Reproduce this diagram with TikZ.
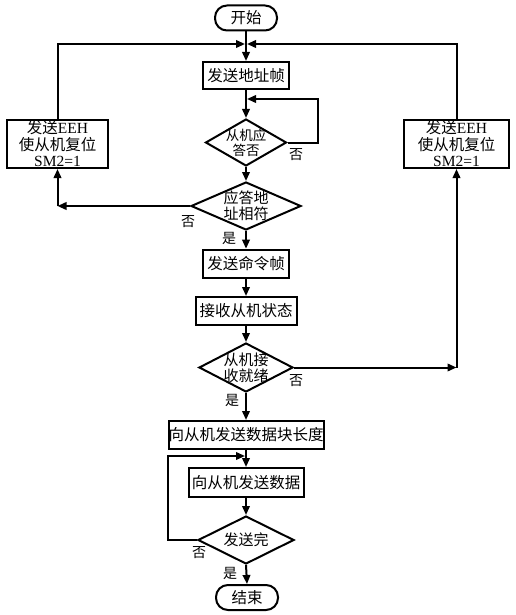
\documentclass[tikz,border=0pt]{standalone}
\usepackage{fontspec}
\setmainfont{Liberation Serif}
\newfontfamily\cjk{Noto Sans CJK SC}
\usetikzlibrary{shapes.geometric, arrows.meta}

\tikzset{
  flow/.style={line width=2pt, -{Triangle[length=9pt,width=7.5pt]}},
  procbox/.style={draw, line width=2pt, inner sep=0pt, align=center,
    font=\fontsize{15.5}{16.5}\selectfont\cjk},
  termbox/.style={procbox, rounded corners=12pt, minimum width=62pt, minimum height=25pt},
  decide/.style={draw, diamond, line width=2pt, inner sep=0pt},
  dtext/.style={align=center, inner sep=0pt, font=\fontsize{15}{16}\selectfont\cjk},
  tag/.style={inner sep=0pt, font=\fontsize{14}{14}\selectfont\cjk},
}

\begin{document}
\begin{tikzpicture}[x=1pt, y=-1pt]
  \useasboundingbox (0,0) rectangle (515,615);
  % main column
  \node[termbox] (start) at (246,18) {开始};
  \node[procbox, minimum width=86pt, minimum height=27pt] (addr) at (246,75.5) {发送地址帧};
  \node[decide, minimum width=81pt, minimum height=47pt,
    label={[dtext, font=\fontsize{13.5}{15}\selectfont\cjk]center:从机应\\答否}] (ack) at (246,142.5) {};
  \node[decide, minimum width=110pt, minimum height=48pt,
    label={[dtext]center:应答地\\址相符}] (match) at (246,206) {};
  \node[procbox, minimum width=86pt, minimum height=28pt, line width=2.6pt] (cmd) at (246,264) {发送命令帧};
  \node[procbox, minimum width=101pt, minimum height=28pt] (recv) at (246,311) {接收从机状态};
  \node[decide, minimum width=94pt, minimum height=49pt,
    label={[dtext]center:从机接\\收就绪}] (ready) at (246,367.5) {};
  \node[procbox, minimum width=155pt, minimum height=28pt] (len) at (246,435) {向从机发送数据块长度};
  \node[procbox, minimum width=115pt, minimum height=29pt] (data) at (246,482.5) {向从机发送数据};
  \node[decide, minimum width=96pt, minimum height=48pt,
    label={[dtext]center:发送完}] (done) at (246,540) {};
  \node[termbox] (stop) at (247,597.5) {结束};
  % reset boxes
  \node[procbox, minimum width=101pt, minimum height=48pt] (rstL) at (57.5,144)
    {发送{\rmfamily EEH}\\使从机复位\\{\rmfamily SM2=1}};
  \node[procbox, minimum width=105pt, minimum height=48pt] (rstR) at (456.5,144)
    {发送{\rmfamily EEH}\\使从机复位\\{\rmfamily SM2=1}};
  % junctions
  \coordinate (top) at (246,44);
  \coordinate (loopA) at (246,99);
  \coordinate (loopAR) at (318,99);
  \coordinate (cornL) at (57.5,206);
  \coordinate (cornR) at (456.5,367.5);
  \coordinate (loopB) at (246,456);
  \coordinate (loopBL) at (168,456);
  % connectors
  \draw[flow] (start.south) -- (addr.north);
  \draw[flow] (rstL.north) |- ([xshift=-1pt]top);
  \draw[flow] (rstR.north) |- ([xshift=1pt]top);
  \draw[flow] (addr.south) -- (ack.north);
  \draw[flow] (ack.east) -| (loopAR) -- ([xshift=1pt]loopA);
  \draw[flow] (ack.south) -- (match.north);
  \draw[flow] (match.west) -- (cornL);
  \draw[flow] (cornL) -- (rstL.south);
  \draw[flow] (match.south) -- (cmd.north);
  \draw[flow] (cmd.south) -- (recv.north);
  \draw[flow] (recv.south) -- (ready.north);
  \draw[flow] (ready.east) -- (cornR);
  \draw[flow] (cornR) -- (rstR.south);
  \draw[flow] (ready.south) -- (len.north);
  \draw[flow] (len.south) -- (data.north);
  \draw[flow] (data.south) -- (done.north);
  \draw[flow] (done.west) -| (loopBL) -- ([xshift=-1pt]loopB);
  \draw[flow] (done.south) -- (stop.north);
  % branch tags
  \node[tag] (noA) at (296,155) {否};
  \node[tag] (noB) at (188,222) {否};
  \node[tag] (yesB) at (229,238) {是};
  \node[tag] (noC) at (296,381) {否};
  \node[tag] (yesC) at (232,400) {是};
  \node[tag] (noD) at (199,553) {否};
  \node[tag] (yesD) at (230,573) {是};
\end{tikzpicture}
\end{document}
